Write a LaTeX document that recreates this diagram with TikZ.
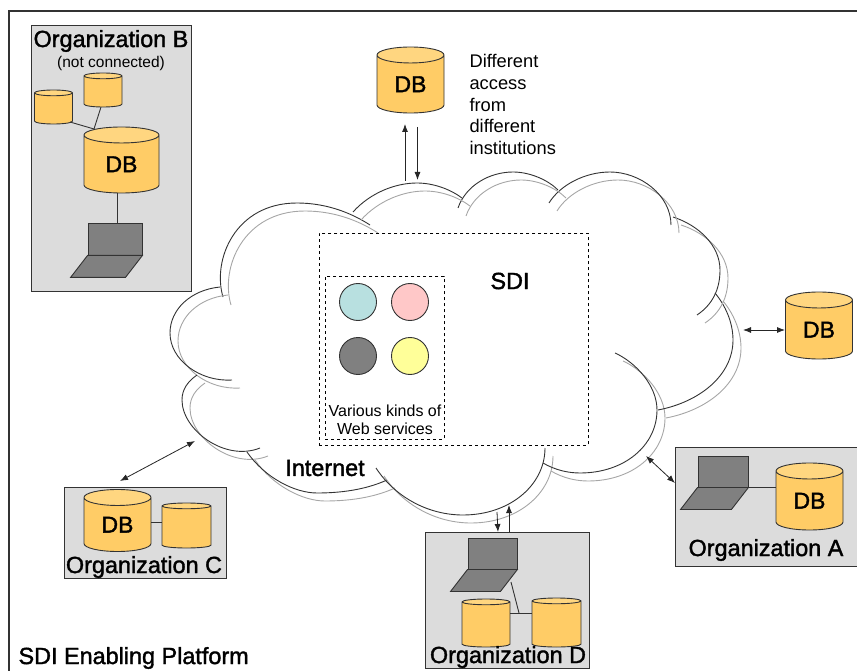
\documentclass[tikz,border=0pt]{standalone}
\usepackage{fontspec}
\setmainfont{Liberation Sans}
\newfontfamily\titlefont[FakeBold=1.6]{Liberation Sans}
\usetikzlibrary{arrows.meta,positioning,calc}
\usetikzlibrary{shapes}

\definecolor{dbbody}{HTML}{FFCC66}
\definecolor{dbtop}{HTML}{FFD680}
\definecolor{orgback}{HTML}{DCDCDC}
\definecolor{edgedark}{HTML}{333333}
\definecolor{svcblue}{HTML}{B8E0E0}
\definecolor{svcpink}{HTML}{FFC8C8}
\definecolor{svcyellow}{HTML}{FFFF99}

\tikzset{
  >={Latex[length=8pt,width=6pt]},
  orgbox/.style={draw=edgedark,fill=orgback,line width=.9pt,anchor=north west},
  dbcyl/.style={cylinder,shape border rotate=90,aspect=.5,anchor=shape center,draw=edgedark,line width=.9pt,
    cylinder uses custom fill,cylinder body fill=dbbody,cylinder end fill=dbtop,
    inner sep=0pt,font=\titlefont\fontsize{23}{23}\selectfont},
  screen/.style={draw=edgedark,fill=gray,line width=.9pt,inner sep=0pt,minimum height=31pt,minimum width=50pt},
  keyboard/.style={draw=edgedark,fill=gray,line width=.9pt},
  link/.style={draw=edgedark,line width=.9pt},
  access/.style={draw=black!85,line width=.8pt},
  title/.style={font=\titlefont\fontsize{23.4}{23.4}\selectfont,text=black},
  service/.style={circle,draw=edgedark,line width=.9pt,minimum size=37pt,inner sep=0pt},
  sdibox/.style={draw,dashed,line width=.8pt,anchor=north west},
  cloudline/.style={draw=black!80,line width=.9pt},
  cloudshade/.style={draw=black!35,line width=.9pt,shift={(8,8)}}
}

\newcommand{\cloudarc}[1]{
  \draw[cloudshade] #1;
  \draw[cloudline] #1;
}
\newcommand{\laptop}[3][]{
  \node[screen,#1] (#2) at (#3) {};
  \draw[keyboard] (#2.south west) -- (#2.south east) -- ++(-17,22) -- ($(#2.south west)+(-17,22)$) -- cycle;
}

\begin{document}
\begin{tikzpicture}[x=1pt,y=-1pt]

  \useasboundingbox (0,0) rectangle (857,671);

  % outer frame
  \coordinate (frametr) at (857,11);
  \coordinate (frametl) at (9,11);
  \coordinate (framebl) at (9,671);
  \draw[link,line width=1.1pt] (frametr) -- (frametl) -- (framebl);

  % the cloud
  \cloudarc{(223,297) .. controls (212,260) and (235,203) .. (297,203) .. controls (325,203) and (350,212) .. (370,225)}
  \cloudarc{(220,287) .. controls (190,290) and (170,310) .. (170,333) .. controls (170,360) and (200,382) .. (232,380)}
  \cloudarc{(197,375) .. controls (187,382) and (182,390) .. (182,400) .. controls (182,430) and (225,462) .. (260,448)}
  \cloudarc{(247,452) .. controls (265,478) and (295,493) .. (317,493) .. controls (340,493) and (365,490) .. (387,480)}
  \cloudarc{(376,468) .. controls (395,497) and (428,515) .. (463,515) .. controls (510,515) and (545,485) .. (545,448)}
  \cloudarc{(543,463) .. controls (555,470) and (568,473) .. (580,473) .. controls (625,473) and (657,445) .. (657,410) .. controls (657,385) and (635,362) .. (615,353)}
  \cloudarc{(658,410) .. controls (700,402) and (733,375) .. (733,340) .. controls (733,322) and (725,305) .. (715,293)}
  \cloudarc{(697,315) .. controls (712,305) and (720,290) .. (720,270) .. controls (720,245) and (698,225) .. (673,217)}
  \cloudarc{(671,225) .. controls (671,195) and (640,172) .. (610,172) .. controls (585,172) and (560,185) .. (549,203)}
  \cloudarc{(458,208) .. controls (466,185) and (490,172) .. (513,172) .. controls (530,172) and (548,180) .. (558,190)}
  \cloudarc{(353,212) .. controls (370,193) and (395,183) .. (417,183) .. controls (433,183) and (450,189) .. (462,198)}

  % SDI
  \node[sdibox,minimum width=269pt,minimum height=212pt] (sdi) at (319,233) {};
  \node[sdibox,minimum width=119pt,minimum height=163pt] (ws) at (325,276) {};
  \node[service,fill=svcblue] (s1) at (358,302) {};
  \node[service,fill=svcpink] (s2) at (410,302) {};
  \node[service,fill=gray] (s3) at (358,356) {};
  \node[service,fill=svcyellow] (s4) at (410,356) {};
  \node[align=center,font=\fontsize{16}{18}\selectfont] (wstext) at (385,420) {Various kinds of\\Web services};
  \node[title] (sditext) at (510,281) {SDI};
  \node[title] (inet) at (325,468) {Internet};

  % top database
  \node[dbcyl,minimum width=67pt,minimum height=66pt] (dbtopn) at (410.5,80) {DB};
  \node[align=left,anchor=north west,font=\fontsize{18.3}{21.7}\selectfont] (dbnote) at (466,51)
    {Different\\access\\from\\different\\institutions};
  \coordinate (cloudup) at (405,181);
  \coordinate (clouddown) at (417.5,180);
  \coordinate (dbup) at (405,124);
  \coordinate (dbdown) at (417.5,127);
  \draw[access,->] (cloudup) -- (dbup);
  \draw[access,->] (dbdown) -- (clouddown);

  % right database
  \node[dbcyl,minimum width=67pt,minimum height=67pt] (dbright) at (819,325.5) {DB};
  \coordinate (cloudright) at (743,330);
  \coordinate (portright) at (785,330);
  \draw[access,<->] (cloudright) -- (portright);

  % Organization B
  \node[orgbox,minimum width=160pt,minimum height=266pt] (orgb) at (31,25) {};
  \node[title] (orgbtext) at (111,41) {Organization B};
  \node[font=\fontsize{15.5}{15.5}\selectfont] (orgbnote) at (111,63) {(not connected)};
  \node[dbcyl,minimum width=75pt,minimum height=66pt] (dbb) at (121.5,160) {DB};
  \node[dbcyl,minimum width=38pt,minimum height=34pt] (dbb1) at (53.5,107) {\phantom{x}};
  \node[dbcyl,minimum width=38pt,minimum height=34pt] (dbb2) at (103,90) {\phantom{x}};
  \laptop[minimum width=54pt,minimum height=32pt]{lapb}{115,239}
  \coordinate (joinb) at (94,129);
  \coordinate (portb1) at (70,122);
  \coordinate (portb2) at (101,107);
  \coordinate (portb3) at (117,193);
  \draw[link] (portb1) -- (joinb);
  \draw[link] (portb2) -- (joinb);
  \draw[link] (portb3) -- (portb3 |- lapb.north);

  % Organization C
  \node[orgbox,minimum width=162pt,minimum height=91pt] (orgc) at (64,487) {};
  \node[dbcyl,minimum width=67pt,minimum height=62pt] (dbc) at (117.5,520.5) {DB};
  \node[dbcyl,minimum width=49pt,minimum height=45pt] (dbc1) at (186.5,525.5) {\phantom{x}};
  \node[title] (orgctext) at (144,567) {Organization C};
  \coordinate (joinc) at (156,522);
  \draw[link] (dbc.east |- joinc) -- (dbc1.west |- joinc);
  \coordinate (cloudc) at (195,441);
  \coordinate (portc) at (120,481);
  \draw[access,<->] (portc) -- (cloudc);

  % Organization A
  \node[orgbox,minimum width=184pt,minimum height=119pt] (orga) at (675,447) {};
  \laptop{lapa}{723,471.5}
  \node[dbcyl,minimum width=67pt,minimum height=67pt] (dba) at (809.5,496.5) {DB};
  \node[title] (orgatext) at (766,550) {Organization A};
  \draw[link] (lapa.south east) -- (lapa.south east -| dba.west);
  \coordinate (clouda) at (646,456);
  \coordinate (porta) at (675,483);
  \draw[access,<->] (clouda) -- (porta);

  % Organization D
  \node[orgbox,minimum width=164pt,minimum height=136pt] (orgd) at (425,532) {};
  \laptop[minimum width=49pt]{lapd}{492.5,553.5}
  \node[dbcyl,minimum width=48pt,minimum height=48pt] (dbd1) at (486,623) {\phantom{x}};
  \node[dbcyl,minimum width=49pt,minimum height=49pt] (dbd2) at (556.5,622.5) {\phantom{x}};
  \node[title] (orgdtext) at (508,657) {Organization D};
  \coordinate (joind) at (519,613);
  \coordinate (keyd) at (511,582);
  \draw[link] (dbd1.east |- joind) -- (dbd2.west |- joind);
  \draw[link] (keyd) -- (joind);
  \coordinate (cloudd1) at (497,512);
  \coordinate (portd1) at (498,532);
  \coordinate (cloudd2) at (509,505);
  \coordinate (portd2) at (509,532);
  \draw[access,->] (cloudd1) -- (portd1);
  \draw[access,->] (portd2) -- (cloudd2);

  \node[title,anchor=west] (platform) at (15,658) {SDI Enabling Platform};

\end{tikzpicture}
\end{document}
